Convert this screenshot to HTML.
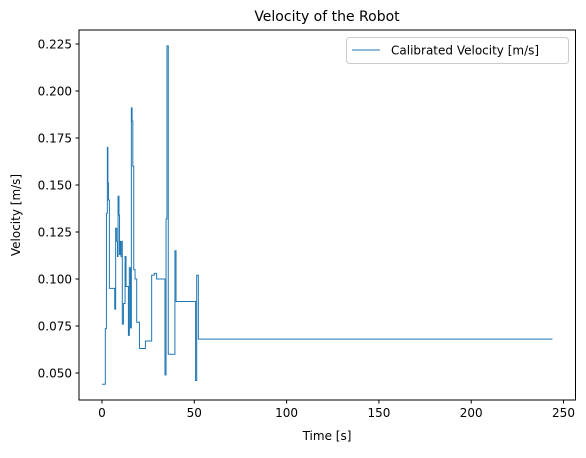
<!DOCTYPE html>
<html><head><meta charset="utf-8"><style>
body{margin:0;background:#fff}
svg{font-family:"DejaVu Sans","Liberation Sans",sans-serif}
</style></head><body>
<svg id="chart" width="586" height="453" viewBox="0 0 586 453">
<rect width="586" height="453" fill="#fff"/>
<text x="327" y="21" font-size="14" text-anchor="middle">Velocity of the Robot</text>
<g id="xticks"></g>
<g id="yticks"></g>
<path id="series" fill="none" stroke="#1f77b4" stroke-width="1"/>
<rect x="79" y="30" width="496.5" height="370" fill="none" stroke="#000" stroke-width="1"/>
<text x="327" y="440" font-size="12" text-anchor="middle">Time [s]</text>
<text transform="translate(20,215) rotate(-90)" font-size="12" text-anchor="middle">Velocity [m/s]</text>
<g>
<rect x="346.5" y="37.5" width="222" height="26" rx="3" fill="#fff" stroke="#ccc"/>
<line x1="352" y1="50" x2="380" y2="50" stroke="#1f77b4" stroke-width="1"/>
<text x="391" y="54.5" font-size="12">Calibrated Velocity [m/s]</text>
</g>
</svg>
<script>
const times = [0,1.8,2.4,2.9,3.2,3.5,4.0,6.9,7.4,8.0,8.4,8.7,9.2,9.5,9.8,10.3,10.9,11.0,11.6,12.5,13.0,14.3,14.8,15.4,15.9,16.3,16.7,17.2,17.9,18.8,20.3,23.5,26.9,28.3,29.6,34.1,34.7,35.2,35.9,39.5,40.1,50.7,51.3,52.2,244];
const velocities = [0.044,0.0736,0.135,0.170,0.151,0.142,0.095,0.084,0.127,0.120,0.112,0.144,0.134,0.113,0.120,0.112,0.120,0.076,0.087,0.112,0.096,0.070,0.106,0.074,0.191,0.184,0.160,0.105,0.100,0.077,0.063,0.067,0.102,0.103,0.100,0.049,0.132,0.224,0.060,0.115,0.088,0.046,0.102,0.068,0.068];
const xTicks = [0,50,100,150,200,250];
const yTicks = [0.050,0.075,0.100,0.125,0.150,0.175,0.200,0.225];
const X = t => 102 + t*1.846;
const Y = v => 373 - (v-0.05)/0.025*47;
const NS = "http://www.w3.org/2000/svg";
let d = "M"+X(times[0])+","+Y(velocities[0]);
for(let i=1;i<times.length;i++){
  d += " L"+X(times[i])+","+Y(velocities[i-1])+" L"+X(times[i])+","+Y(velocities[i]);
}
document.getElementById("series").setAttribute("d", d);
const gx = document.getElementById("xticks");
xTicks.forEach(t=>{
  const l=document.createElementNS(NS,"line");
  l.setAttribute("x1",X(t));l.setAttribute("x2",X(t));l.setAttribute("y1",400);l.setAttribute("y2",403.5);l.setAttribute("stroke","#000");
  
  
  gx.appendChild(l);
  const tx=document.createElementNS(NS,"text");
  tx.setAttribute("x",X(t));tx.setAttribute("y",417);tx.setAttribute("font-size","12");tx.setAttribute("text-anchor","middle");
  tx.textContent=t;
  
  
  gx.appendChild(tx);
});
const gy = document.getElementById("yticks");
yTicks.forEach(v=>{
  const l=document.createElementNS(NS,"line");
  l.setAttribute("x1",75.5);l.setAttribute("x2",79);l.setAttribute("y1",Y(v));l.setAttribute("y2",Y(v));l.setAttribute("stroke","#000");
  
  
  gy.appendChild(l);
  const tx=document.createElementNS(NS,"text");
  tx.setAttribute("x",72);tx.setAttribute("y",Y(v)+4.3);tx.setAttribute("font-size","12");tx.setAttribute("text-anchor","end");
  tx.textContent=v.toFixed(3);
  
  
  gy.appendChild(tx);
});
</script>
</body></html>
